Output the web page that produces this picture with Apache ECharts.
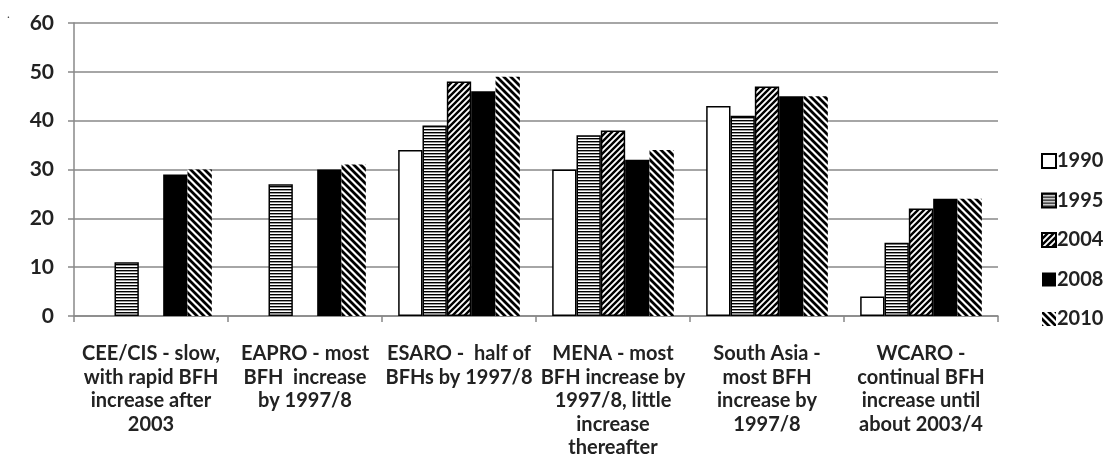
<!DOCTYPE html>
<html>
<head>
<meta charset="utf-8">
<script src="https://cdn.jsdelivr.net/npm/echarts@6/dist/echarts.min.js"></script>
<style>
  html, body { margin: 0; padding: 0; background: #fff; }
  #chart { width: 1106px; height: 472px; }
</style>
</head>
<body>
<div id="chart"></div>
<script>
// Regions, with their short descriptions of how BFH numbers grew
const categories = [
  'CEE/CIS - slow,\nwith rapid BFH\nincrease after\n2003',
  'EAPRO - most\nBFH  increase\nby 1997/8',
  'ESARO -  half of\nBFHs by 1997/8',
  'MENA - most\nBFH increase by\n1997/8, little\nincrease\nthereafter',
  'South Asia -\nmost BFH\nincrease by\n1997/8',
  'WCARO -\ncontinual BFH\nincrease until\nabout 2003/4'
];
const years = ['1990', '1995', '2004', '2008', '2010'];
// null = no bar drawn for that year
const v1990 = [null, null, 34, 30, 43, 4];
const v1995 = [11, 27, 39, 37, 41, 15];
const v2004 = [null, null, 48, 38, 47, 22];
const v2008 = [29, 30, 46, 32, 45, 24];
const v2010 = [30, 31, 49, 34, 45, 24];
const yTicks = [0, 10, 20, 30, 40, 50, 60];

// Hatch fills as repeating canvas tiles
function tile(w, h, draw) {
  const c = document.createElement('canvas');
  c.width = w; c.height = h;
  const g = c.getContext('2d');
  g.fillStyle = '#fff';
  g.fillRect(0, 0, w, h);
  g.strokeStyle = '#000';
  g.fillStyle = '#000';
  draw(g, w, h);
  return { image: c, repeat: 'repeat' };
}
const horiz = tile(4, 3, (g) => {
  g.fillRect(0, 0, 4, 1);
  g.fillStyle = '#999';
  g.fillRect(0, 1, 4, 1);
});
function diag(n, lw, forward) {
  return tile(n, n, (g) => {
    g.lineWidth = lw;
    g.beginPath();
    if (forward) {
      g.moveTo(0, n); g.lineTo(n, 0);
      g.moveTo(-1, 1); g.lineTo(1, -1);
      g.moveTo(n - 1, n + 1); g.lineTo(n + 1, n - 1);
    } else {
      g.moveTo(0, 0); g.lineTo(n, n);
      g.moveTo(-1, n - 1); g.lineTo(1, n + 1);
      g.moveTo(n - 1, -1); g.lineTo(n + 1, 1);
    }
    g.stroke();
  });
}
const fwd = diag(6, 2.4, true);
const bwd = diag(7, 2.8, false);

const fills = [
  { color: '#ffffff', borderColor: '#000', borderWidth: 1.5 },
  { color: horiz, borderColor: '#000', borderWidth: 1.5 },
  { color: fwd, borderColor: '#000', borderWidth: 1.5 },
  { color: '#000000', borderColor: '#000', borderWidth: 0 },
  { color: bwd, borderWidth: 0 }
];
const values = [v1990, v1995, v2004, v2008, v2010];

const font = 'Lato, "Open Sans", "DejaVu Sans", sans-serif';

const chart = echarts.init(document.getElementById('chart'), null, { renderer: 'canvas' });
chart.setOption({
  animation: false,
  backgroundColor: '#fff',
  grid: { left: 74, right: 108, top: 23, bottom: 156, containLabel: false },
  graphic: [{
    type: 'text', left: 7, top: 8,
    style: { text: '.', fontSize: 12, fill: '#444', fontFamily: font }
  }],
  legend: {
    orient: 'vertical',
    left: 1036,
    top: 146,
    itemWidth: 14,
    itemHeight: 14,
    itemGap: 19.5,
    icon: 'rect',
    data: years,
    textStyle: { fontFamily: font, fontSize: 20, fontWeight: 'bold', color: '#222', padding: [0, 0, 0, -4] }
  },
  xAxis: {
    type: 'category',
    data: categories,
    axisLine: { lineStyle: { color: '#888', width: 1.5 } },
    axisTick: { show: true, length: 6, lineStyle: { color: '#888', width: 1.5 } },
    axisLabel: {
      interval: 0,
      margin: 26,
      fontFamily: font,
      fontSize: 20,
      fontWeight: 'bold',
      lineHeight: 23.5,
      color: '#222',
      align: 'center'
    }
  },
  yAxis: {
    type: 'value',
    min: yTicks[0],
    max: yTicks[yTicks.length - 1],
    interval: 10,
    axisLine: { show: true, lineStyle: { color: '#888', width: 1.5 } },
    axisTick: { show: true, length: 6, lineStyle: { color: '#888', width: 1.5 } },
    axisLabel: { margin: 20, fontFamily: font, fontSize: 21, fontWeight: 'bold', color: '#222' },
    splitLine: { show: true, lineStyle: { color: '#888', width: 1.5 } }
  },
  series: years.map((y, i) => ({
    name: y,
    type: 'bar',
    data: values[i],
    barGap: '0%',
    barCategoryGap: '21%',
    itemStyle: fills[i]
  }))
});
</script>
</body>
</html>
